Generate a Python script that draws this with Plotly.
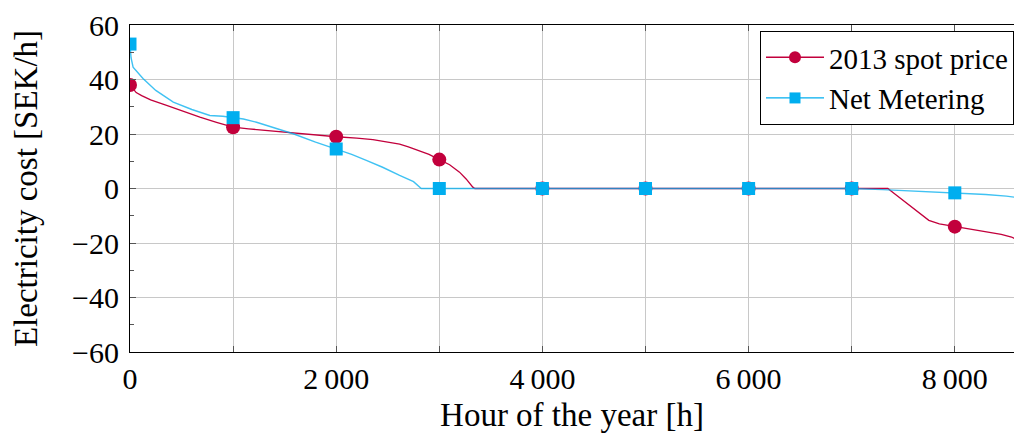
import plotly.graph_objects as go

# 2013 spot price duration curve
spot_hours = [0, 20, 60, 113, 200, 355, 500, 678, 839, 1000, 1150, 1324, 1500, 1646, 1800,
              2000, 2200, 2356, 2500, 2615, 2700, 2809, 2900, 3000, 3100, 3196, 3260, 3325,
              3345, 4000, 5000, 6000, 7000, 7350, 7400, 7500, 7600, 7748, 7850, 7971, 8000,
              8150, 8300, 8450, 8550, 8620, 8660]
spot_values = [38.0, 37.0, 35.2, 34.1, 32.5, 30.5, 28.5, 26.2, 24.3, 22.5, 21.9, 21.3, 20.7,
               20.1, 19.6, 19.0, 18.5, 17.9, 17.0, 16.3, 15.3, 13.9, 12.5, 10.6, 8.7, 6.0, 3.5,
               0.5, 0.0, 0.0, 0.0, 0.0, 0.0, 0.0, -1.5, -4.5, -7.5, -11.7, -13.0, -13.8, -14.0,
               -14.8, -15.8, -16.8, -17.8, -19.1, -20.0]

# Net metering duration curve
net_hours = [0, 10, 30, 80, 126, 250, 420, 600, 775, 900, 1000, 1100, 1227, 1400, 1582, 1800,
             2000, 2150, 2292, 2450, 2615, 2750, 2825, 3000, 4000, 5000, 6000, 7000, 7300,
             7600, 8000, 8300, 8500, 8660]
net_values = [53.0, 48.0, 44.5, 42.5, 40.4, 36.0, 31.7, 29.0, 26.8, 26.5, 26.0, 25.5, 24.3,
              22.3, 20.1, 17.0, 14.5, 12.5, 10.3, 7.8, 4.8, 2.5, 0.0, 0.0, 0.0, 0.0, 0.0, 0.0,
              -0.4, -0.9, -1.6, -2.2, -2.8, -3.6]

# marker positions (every 1000 h)
marker_hours = [0, 1000, 2000, 3000, 4000, 5000, 6000, 7000, 8000]
spot_markers = [38.0, 22.5, 19.0, 10.6, 0.0, 0.0, 0.0, 0.0, -14.0]
net_markers = [53.0, 26.0, 14.5, 0.0, 0.0, 0.0, 0.0, 0.0, -1.6]

x_tickvals = [0, 1000, 2000, 3000, 4000, 5000, 6000, 7000, 8000]
x_ticktext = ["0", "", "2\u2009000", "", "4\u2009000", "", "6\u2009000", "", "8\u2009000"]
y_tickvals = [-60, -40, -20, 0, 20, 40, 60]
y_ticktext = ["\u221260", "\u221240", "\u221220", "0", "20", "40", "60"]

RED = "#C2003C"
BLUE = "#00AEEF"
FONT = "Liberation Serif"

fig = go.Figure()
fig.add_trace(go.Scatter(x=spot_hours, y=spot_values, mode="lines",
                         line=dict(color=RED, width=1.3), showlegend=False))
fig.add_trace(go.Scatter(x=marker_hours, y=spot_markers, mode="markers",
                         marker=dict(color=RED, size=14, symbol="circle"), showlegend=False))
fig.add_trace(go.Scatter(x=net_hours, y=net_values, mode="lines", opacity=0.75,
                         line=dict(color=BLUE, width=1.4), showlegend=False))
fig.add_trace(go.Scatter(x=marker_hours, y=net_markers, mode="markers",
                         marker=dict(color=BLUE, size=13, symbol="square"), showlegend=False))
# legend entries
fig.add_trace(go.Scatter(x=[None], y=[None], mode="lines+markers", name="2013 spot price",
                         line=dict(color=RED, width=1.3),
                         marker=dict(color=RED, size=12, symbol="circle")))
fig.add_trace(go.Scatter(x=[None], y=[None], mode="lines+markers", name="Net Metering",
                         line=dict(color=BLUE, width=1.3),
                         marker=dict(color=BLUE, size=11, symbol="square")))

# page has an 8px body margin: figure occupies x 8..1014, y 8..437
fig.update_layout(
    width=1006, height=429,
    margin=dict(l=122, r=0, t=17, b=85, autoexpand=False),
    plot_bgcolor="white", paper_bgcolor="white",
    font=dict(family=FONT, size=30, color="black"),
    legend=dict(x=1.0, y=0.982, xanchor="right", yanchor="top",
                bordercolor="black", borderwidth=1, bgcolor="white",
                font=dict(family=FONT, size=29), tracegroupgap=0, itemwidth=58),
)
fig.update_xaxes(
    range=[0, 8574], tickvals=x_tickvals, ticktext=x_ticktext, automargin=False,
    showgrid=True, gridcolor="#c8c8c8", gridwidth=1,
    showline=True, linecolor="black", linewidth=1.2, mirror="ticks",
    ticks="inside", ticklen=6, tickcolor="#555", zeroline=False,
    title=dict(text="Hour of the year [h]", font=dict(family=FONT, size=33), standoff=8),
    tickfont=dict(family=FONT, size=30),
)
fig.update_yaxes(
    range=[-60, 60], tickvals=y_tickvals, ticktext=y_ticktext, automargin=False,
    showgrid=True, gridcolor="#c8c8c8", gridwidth=1,
    showline=True, linecolor="black", linewidth=1.2, mirror=False,
    ticks="inside", ticklen=6, tickcolor="#555", zeroline=False,
    ticklabelstandoff=4,
    minor=dict(tickvals=[-50, -30, -10, 10, 30, 50], ticks="inside", ticklen=4,
               tickcolor="#555", showgrid=False),
    title=dict(text="Electricity cost [SEK/h]", font=dict(family=FONT, size=33), standoff=29),
    tickfont=dict(family=FONT, size=30),
)

fig.write_html("out.html")
